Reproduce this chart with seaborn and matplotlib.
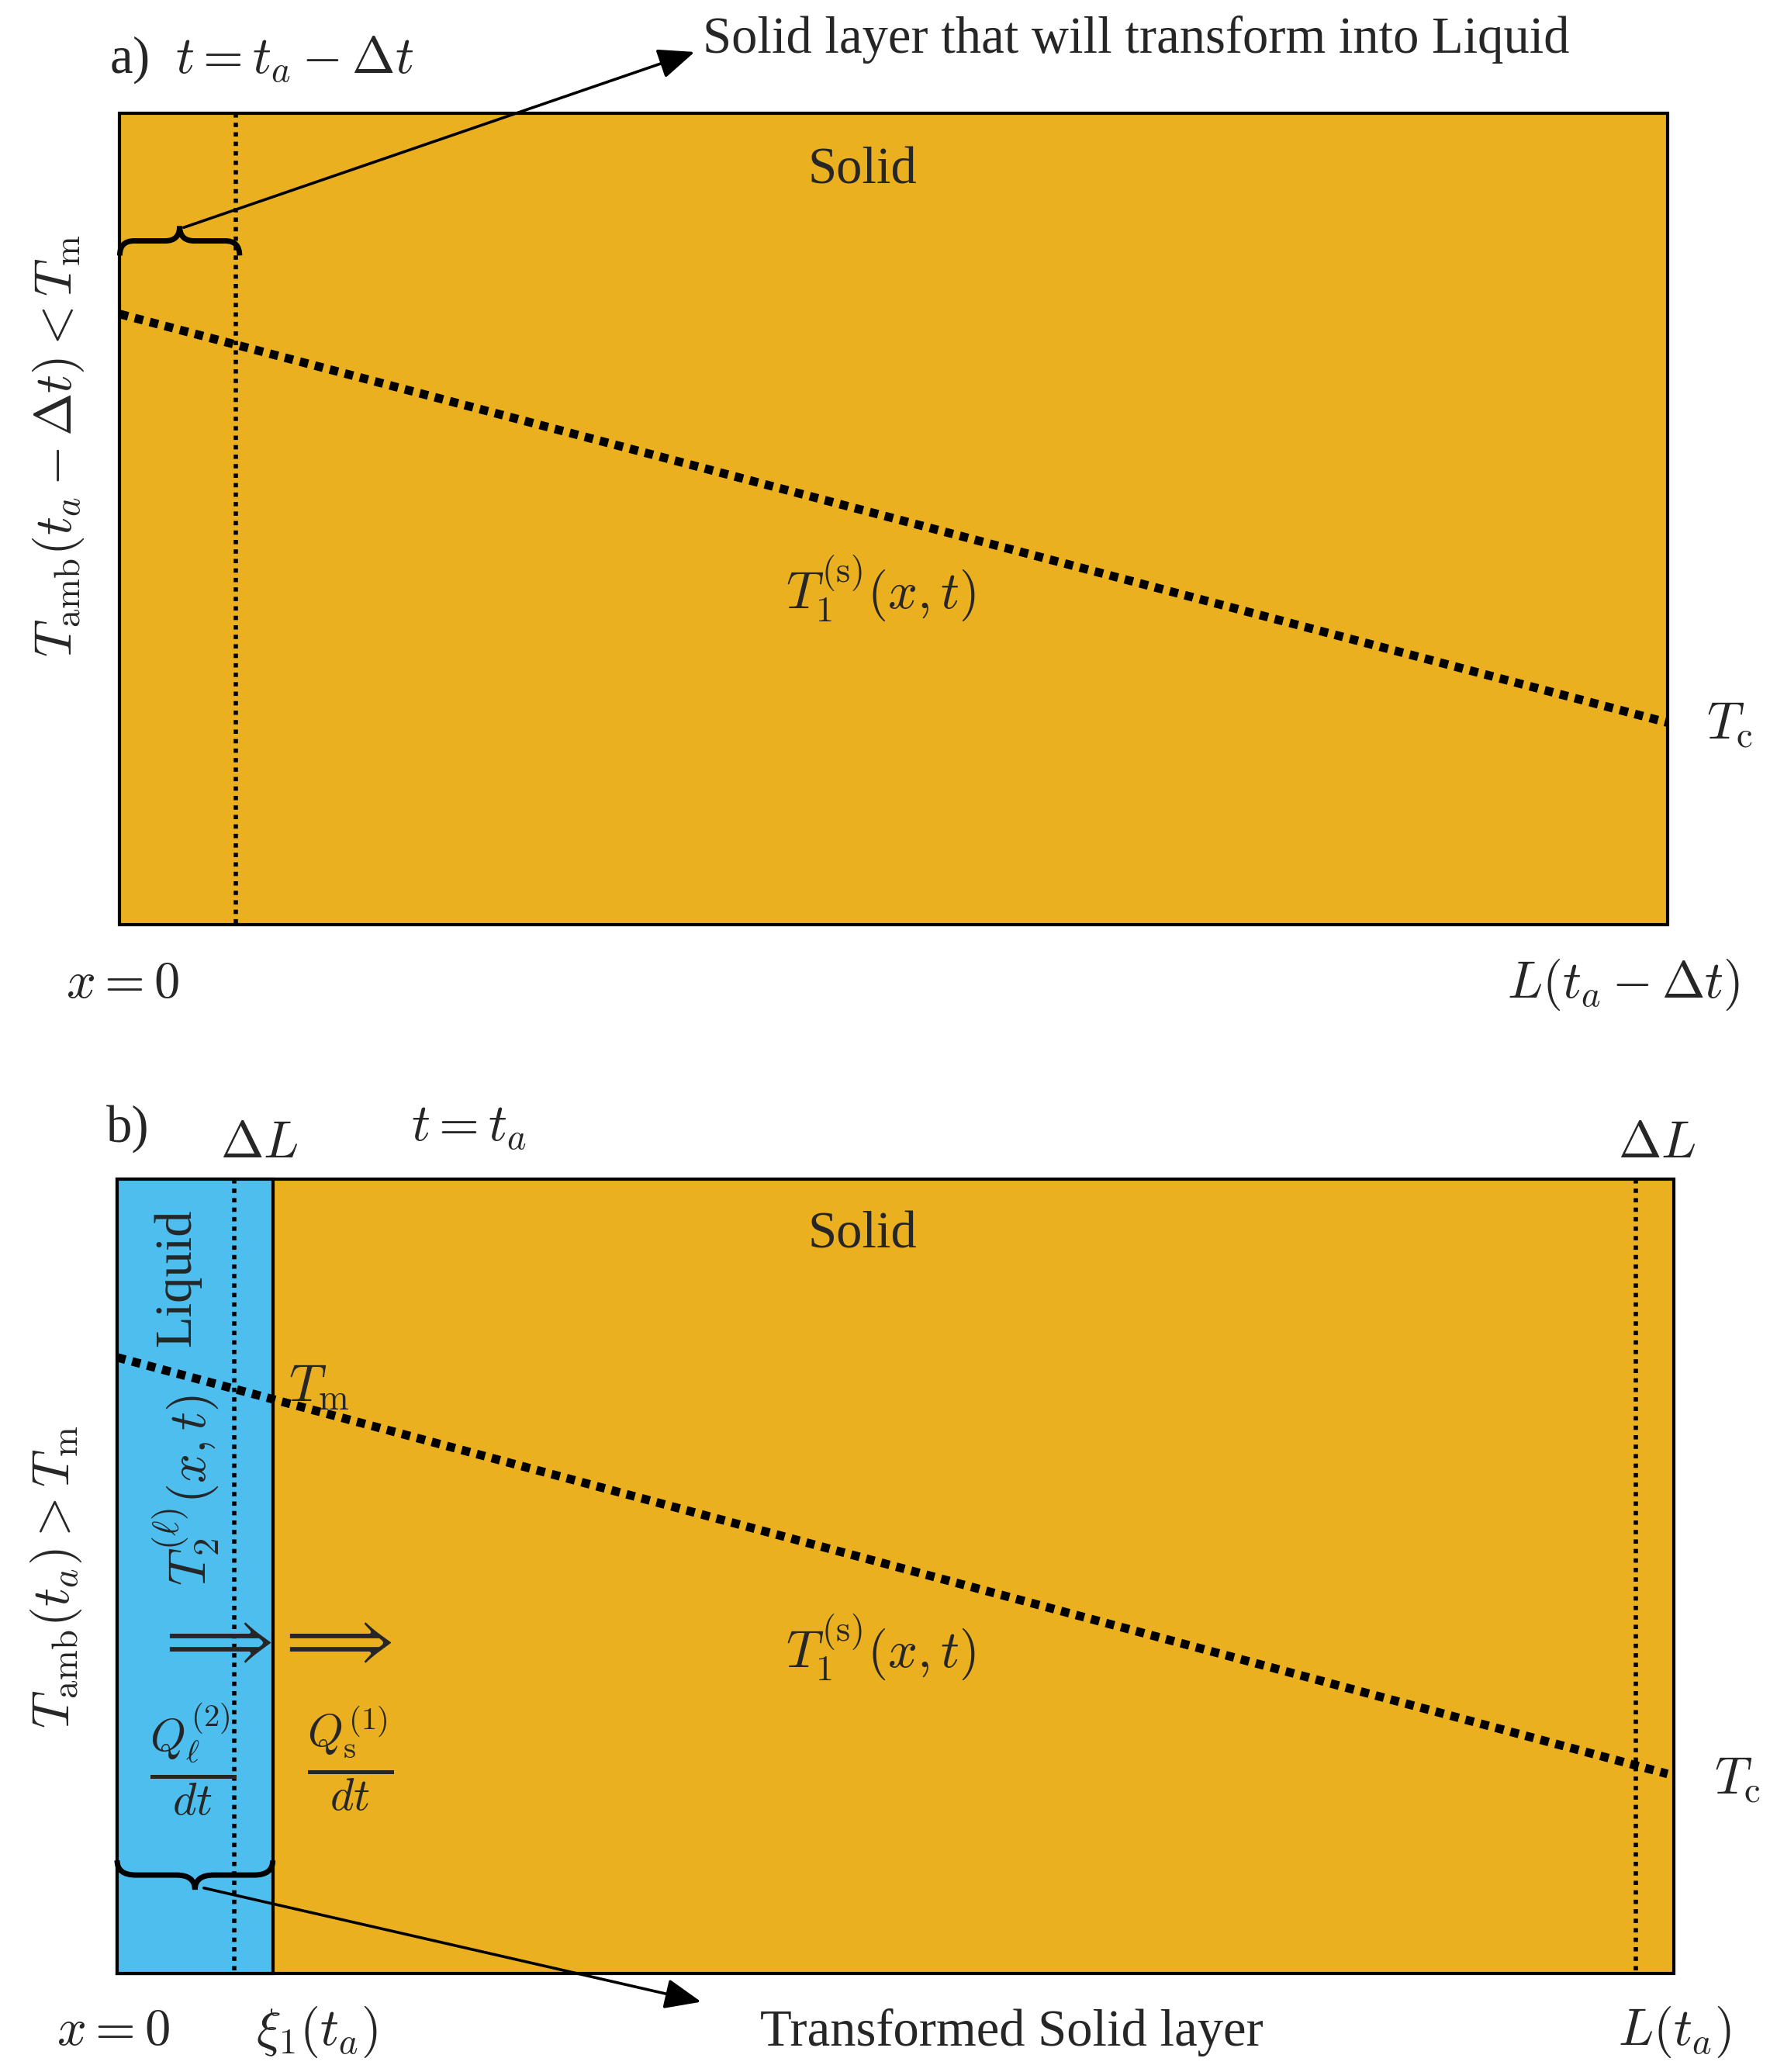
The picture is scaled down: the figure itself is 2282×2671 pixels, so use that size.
import matplotlib
matplotlib.use("Agg")
import matplotlib.pyplot as plt
import seaborn as sns
import pandas as pd
from matplotlib.patches import Rectangle, PathPatch
from matplotlib.path import Path

sns.set_theme(style="white")
plt.rcParams['font.family'] = ['Liberation Serif', 'DejaVu Serif']
plt.rcParams['mathtext.fontset'] = 'cm'

SOLID = "#EAB01F"
LIQUID = "#4DBEEE"

# temperature profile endpoints (x, y in diagram units)
temp_a_x = [90, 1253]
temp_a_y = [236, 543]
temp_b_x = [88, 1253]
temp_b_y = [1020, 1333]

W, H = 1330, 1557
fig = plt.figure(figsize=(2282/200, 2671/200), dpi=200)
ax = fig.add_axes([0, 0, 1, 1])
ax.set_xlim(0, W); ax.set_ylim(H, 0); ax.axis("off")

# panel a
ax.add_patch(Rectangle((90, 85), 1163, 610, fc=SOLID, ec="black", lw=1.5, zorder=1))
ax.plot([177, 177], [85, 695], ls=(0, (1, 1.2)), color="black", lw=2, zorder=2)
sns.lineplot(data=pd.DataFrame({"x": temp_a_x, "y": temp_a_y}), x="x", y="y", ax=ax,
             color="black", lw=4, linestyle=(0, (1, 0.8)), zorder=3, sort=False)

# panel b
ax.add_patch(Rectangle((88, 886), 1170, 597, fc=SOLID, ec="black", lw=1.5, zorder=1))
ax.add_patch(Rectangle((88, 886), 117, 597, fc=LIQUID, ec="black", lw=1.5, zorder=1))
for xv in [176, 1229]:
    ax.plot([xv, xv], [886, 1483], ls=(0, (1, 1.2)), color="black", lw=2, zorder=2)
sns.lineplot(data=pd.DataFrame({"x": temp_b_x, "y": temp_b_y}), x="x", y="y", ax=ax,
             color="black", lw=4, linestyle=(0, (1, 0.8)), zorder=3, sort=False)
ax.set_xlabel(""); ax.set_ylabel("")

def brace(x0, x1, y, h):
    xm = (x0 + x1) / 2; w = x1 - x0
    verts = [(x0, y), (x0, y - h/2), (x0 + w*0.12, y - h/2),
             (xm - w*0.12, y - h/2), (xm, y - h/2), (xm, y - h),
             (xm, y - h/2), (xm + w*0.12, y - h/2),
             (x1 - w*0.12, y - h/2), (x1, y - h/2), (x1, y)]
    codes = [Path.MOVETO, Path.CURVE3, Path.CURVE3, Path.LINETO, Path.CURVE3, Path.CURVE3,
             Path.CURVE3, Path.CURVE3, Path.LINETO, Path.CURVE3, Path.CURVE3]
    ax.add_patch(PathPatch(Path(verts, codes), fc="none", ec="black", lw=2.5, zorder=4))

brace(90, 180, 192, 22)
brace(88, 205, 1398, -22)

ax.annotate("", xy=(525, 38), xytext=(135, 172),
            arrowprops=dict(arrowstyle="-|>,head_length=1.2,head_width=0.5", color="black", lw=1.3), zorder=5)
ax.annotate("", xy=(530, 1505), xytext=(150, 1418),
            arrowprops=dict(arrowstyle="-|>,head_length=1.2,head_width=0.5", color="black", lw=1.3), zorder=5)

fs = 24
ax.text(82, 45, r"a)  $t = t_a - \Delta t$", fontsize=fs, va="center")
ax.text(528, 30, "Solid layer that will transform into Liquid", fontsize=fs, va="center")
ax.text(648, 128, "Solid", fontsize=fs, ha="center", va="center")
ax.text(662, 442, r"$T_1^{(\mathrm{s})}(x,t)$", fontsize=fs, ha="center", va="center")
ax.text(1282, 545, r"$T_\mathrm{c}$", fontsize=fs, va="center")
ax.text(44, 335, r"$T_\mathrm{amb}(t_a - \Delta t) < T_\mathrm{m}$", fontsize=fs, rotation=90,
        ha="center", va="center")
ax.text(92, 740, r"$x = 0$", fontsize=fs, ha="center", va="center")
ax.text(1220, 740, r"$L(t_a - \Delta t)$", fontsize=fs, ha="center", va="center")

ax.text(80, 848, "b)", fontsize=fs, va="center")
ax.text(195, 860, r"$\Delta L$", fontsize=fs, ha="center", va="center")
ax.text(352, 848, r"$t = t_a$", fontsize=fs, ha="center", va="center")
ax.text(1245, 860, r"$\Delta L$", fontsize=fs, ha="center", va="center")
ax.text(648, 928, "Solid", fontsize=fs, ha="center", va="center")
ax.text(133, 960, "Liquid", fontsize=fs, rotation=90, ha="center", va="center")
ax.text(240, 1043, r"$T_\mathrm{m}$", fontsize=fs, ha="center", va="center")
ax.text(140, 1120, r"$T_2^{(\ell)}(x,t)$", fontsize=fs, rotation=90, ha="center", va="center")
ax.text(662, 1238, r"$T_1^{(\mathrm{s})}(x,t)$", fontsize=fs, ha="center", va="center")
ax.text(1288, 1338, r"$T_\mathrm{c}$", fontsize=fs, va="center")
ax.text(42, 1185, r"$T_\mathrm{amb}(t_a) > T_\mathrm{m}$", fontsize=fs, rotation=90,
        ha="center", va="center")
ax.text(160, 1235, r"$\Longrightarrow$", fontsize=32, ha="center", va="center")
ax.text(250, 1235, r"$\Longrightarrow$", fontsize=32, ha="center", va="center")
ax.text(145, 1322, r"$\frac{Q_\ell^{(2)}}{dt}$", fontsize=30, ha="center", va="center")
ax.text(263, 1322, r"$\frac{Q_\mathrm{s}^{(1)}}{dt}$", fontsize=30, ha="center", va="center")
ax.text(85, 1527, r"$x = 0$", fontsize=fs, ha="center", va="center")
ax.text(238, 1527, r"$\xi_1(t_a)$", fontsize=fs, ha="center", va="center")
ax.text(760, 1527, "Transformed Solid layer", fontsize=fs, ha="center", va="center")
ax.text(1258, 1527, r"$L(t_a)$", fontsize=fs, ha="center", va="center")

fig.savefig("out.png", dpi=200)
